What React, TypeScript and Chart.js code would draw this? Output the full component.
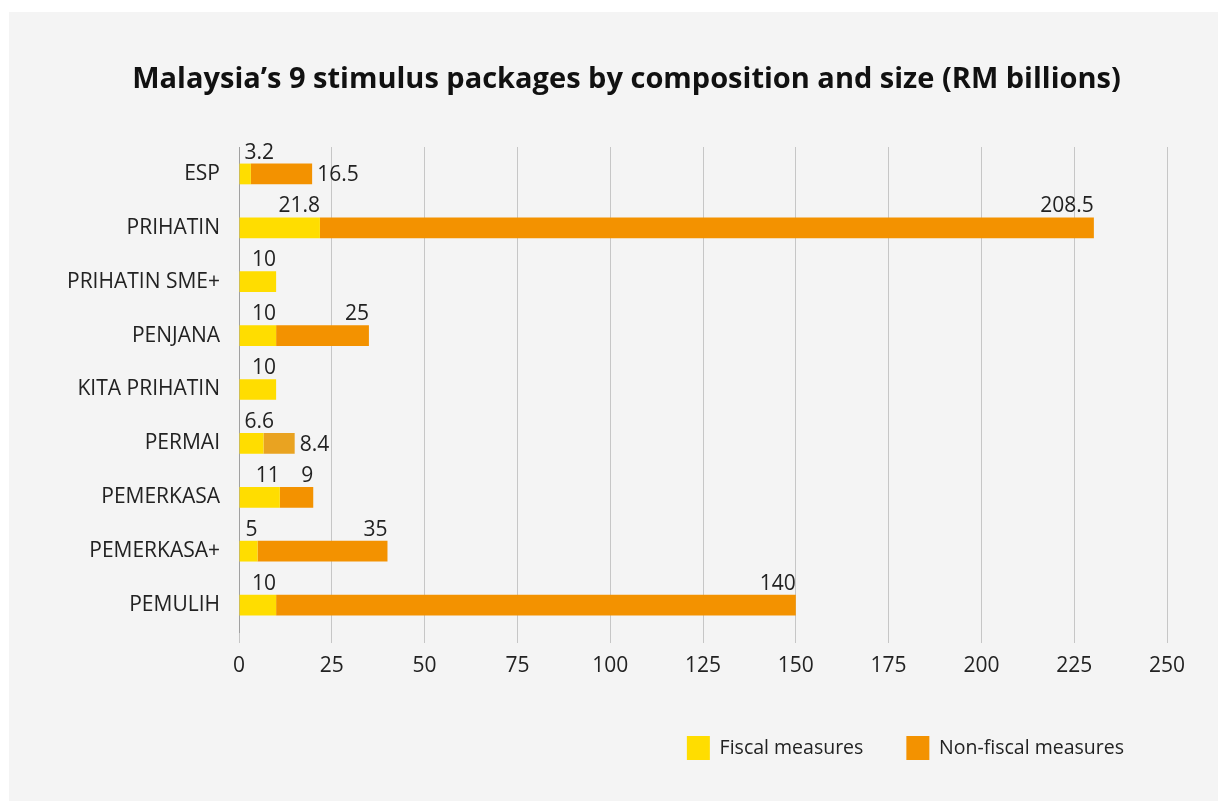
import React, { useEffect, useRef } from "react";
import { Chart, registerables } from "chart.js";

Chart.register(...registerables);

const categories = [
  "ESP",
  "PRIHATIN",
  "PRIHATIN SME+",
  "PENJANA",
  "KITA PRIHATIN",
  "PERMAI",
  "PEMERKASA",
  "PEMERKASA+",
  "PEMULIH",
];
const fiscal = [3.2, 21.8, 10, 10, 10, 6.6, 11, 5, 10];
const nonFiscal = [16.5, 208.5, 0, 25, 0, 8.4, 9, 35, 140];
const xTicks = [0, 25, 50, 75, 100, 125, 150, 175, 200, 225, 250];

const titleText = "Malaysia\u2019s 9 stimulus packages by composition and size (RM billions)";
const seriesNames = ["Fiscal measures", "Non-fiscal measures"];
const fiscalColor = "#FFDD00";
const nonFiscalColor = "#F39200";
const nonFiscalColors = categories.map((c) => (c === "PERMAI" ? "#E9A321" : nonFiscalColor));

const FONT = '"Open Sans", "Noto Sans", sans-serif';
const TEXT = "#222222";

const titlePlugin = {
  id: "centeredTitle",
  afterDraw(chart: any) {
    const ctx = chart.ctx as CanvasRenderingContext2D;
    ctx.save();
    ctx.font = `bold 29px ${FONT}`;
    ctx.fillStyle = "#111111";
    ctx.textAlign = "center";
    ctx.textBaseline = "middle";
    ctx.fillText(titleText, 617.5, 68);
    ctx.restore();
  },
};

const valueLabels = {
  id: "valueLabels",
  afterDatasetsDraw(chart: any) {
    const ctx = chart.ctx as CanvasRenderingContext2D;
    const m0 = chart.getDatasetMeta(0);
    const m1 = chart.getDatasetMeta(1);
    ctx.save();
    ctx.font = `21px ${FONT}`;
    ctx.fillStyle = TEXT;
    ctx.textBaseline = "alphabetic";
    categories.forEach((_, i) => {
      let fiscalRight = -Infinity;
      const fv = fiscal[i];
      if (fv > 0) {
        const el = m0.data[i].getProps(["x", "y", "base", "height"], true);
        const t = String(fv);
        const w = ctx.measureText(t).width;
        const right = Math.max(el.x, el.base + 5 + w);
        ctx.textAlign = "right";
        ctx.fillText(t, right, el.y - el.height / 2 - 5);
        fiscalRight = right;
      }
      const nv = nonFiscal[i];
      if (nv > 0) {
        const el = m1.data[i].getProps(["x", "y", "base", "height"], true);
        const t = String(nv);
        const w = ctx.measureText(t).width;
        if (el.x - w < fiscalRight + 8) {
          ctx.textAlign = "left";
          ctx.fillText(t, el.x + 5, el.y + 7.5);
        } else {
          ctx.textAlign = "right";
          ctx.fillText(t, el.x, el.y - el.height / 2 - 5);
        }
      }
    });
    ctx.restore();
  },
};

export default function App() {
  const canvasRef = useRef<HTMLCanvasElement | null>(null);

  useEffect(() => {
    if (!canvasRef.current) return;
    const chart = new Chart(canvasRef.current, {
      type: "bar",
      data: {
        labels: categories,
        datasets: [
          {
            label: seriesNames[0],
            data: fiscal,
            backgroundColor: fiscalColor,
            borderWidth: 0,
            categoryPercentage: 1,
            barPercentage: 0.385,
          },
          {
            label: seriesNames[1],
            data: nonFiscal,
            backgroundColor: nonFiscalColors,
            borderWidth: 0,
            categoryPercentage: 1,
            barPercentage: 0.385,
          },
        ],
      },
      options: {
        indexAxis: "y",
        animation: false,
        responsive: true,
        maintainAspectRatio: false,
        layout: { padding: { left: 0, right: 51, top: 135, bottom: 31 } },
        scales: {
          x: {
            stacked: true,
            min: 0,
            max: 250,
            afterBuildTicks: (scale: any) => {
              scale.ticks = xTicks.map((v) => ({ value: v }));
            },
            afterFit: (scale: any) => {
              scale.height = 61;
            },
            grid: {
              color: "#C6C6C6",
              lineWidth: 1,
              drawTicks: true,
              tickLength: 11,
            },
            border: { display: false },
            ticks: {
              color: TEXT,
              font: { family: FONT, size: 21 },
              padding: 10,
              maxRotation: 0,
            },
          },
          y: {
            stacked: true,
            afterFit: (scale: any) => {
              scale.width = 230;
            },
            grid: { display: false, drawTicks: false },
            border: { display: true, color: "#A0A0A0", width: 1 },
            ticks: {
              color: TEXT,
              font: { family: FONT, size: 21 },
              padding: 19,
              autoSkip: false,
            },
          },
        },
        plugins: {
          title: { display: false },
          legend: {
            display: true,
            position: "bottom",
            align: "end",
            labels: {
              boxWidth: 23,
              boxHeight: 24,
              padding: 43,
              color: TEXT,
              font: { family: FONT, size: 19.5 },
            },
          },
          tooltip: { enabled: false },
        },
      },
      plugins: [valueLabels, titlePlugin],
    });
    return () => chart.destroy();
  }, []);

  return (
    <div
      style={{
        position: "fixed",
        left: 9,
        top: 12,
        width: 1209,
        height: 789,
        background: "#F4F4F4",
      }}
    >
      <canvas ref={canvasRef} />
    </div>
  );
}
